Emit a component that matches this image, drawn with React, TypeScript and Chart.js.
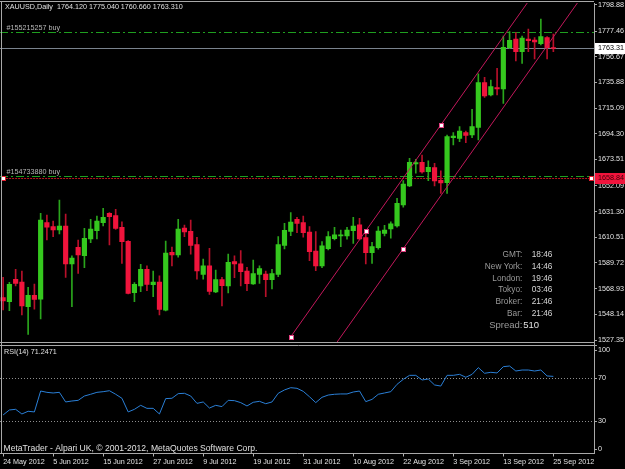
import { useEffect, useRef } from 'react';
import { Chart, registerables } from 'chart.js';

Chart.register(...registerables);

// ---------- data ----------
const symbol = 'XAUUSD';
const period = 'Daily';

const dates = [
  '24 May 2012', '25 May 2012', '28 May 2012', '29 May 2012', '30 May 2012', '31 May 2012',
  '1 Jun 2012', '4 Jun 2012', '5 Jun 2012', '6 Jun 2012', '7 Jun 2012', '8 Jun 2012', '11 Jun 2012',
  '12 Jun 2012', '13 Jun 2012', '14 Jun 2012', '15 Jun 2012', '18 Jun 2012', '19 Jun 2012', '20 Jun 2012',
  '21 Jun 2012', '22 Jun 2012', '25 Jun 2012', '26 Jun 2012', '27 Jun 2012', '28 Jun 2012', '29 Jun 2012',
  '2 Jul 2012', '3 Jul 2012', '4 Jul 2012', '5 Jul 2012', '6 Jul 2012', '9 Jul 2012', '10 Jul 2012',
  '11 Jul 2012', '12 Jul 2012', '13 Jul 2012', '16 Jul 2012', '17 Jul 2012', '18 Jul 2012', '19 Jul 2012',
  '20 Jul 2012', '23 Jul 2012', '24 Jul 2012', '25 Jul 2012', '26 Jul 2012', '27 Jul 2012', '30 Jul 2012',
  '31 Jul 2012', '1 Aug 2012', '2 Aug 2012', '3 Aug 2012', '6 Aug 2012', '7 Aug 2012', '8 Aug 2012',
  '9 Aug 2012', '10 Aug 2012', '13 Aug 2012', '14 Aug 2012', '15 Aug 2012', '16 Aug 2012', '17 Aug 2012',
  '20 Aug 2012', '21 Aug 2012', '22 Aug 2012', '23 Aug 2012', '24 Aug 2012', '27 Aug 2012', '28 Aug 2012',
  '29 Aug 2012', '30 Aug 2012', '31 Aug 2012', '3 Sep 2012', '4 Sep 2012', '5 Sep 2012', '6 Sep 2012',
  '7 Sep 2012', '10 Sep 2012', '11 Sep 2012', '12 Sep 2012', '13 Sep 2012', '14 Sep 2012', '17 Sep 2012',
  '18 Sep 2012', '19 Sep 2012', '20 Sep 2012', '21 Sep 2012', '24 Sep 2012', '25 Sep 2012',
];

const opens = [
  1561.6, 1558.4, 1576.5, 1574.3, 1554.3, 1563.5, 1560.5, 1622.3, 1619.1, 1616.4,
  1619.6, 1588.9, 1602.4, 1595.6, 1609.1, 1615.9, 1622.3, 1629.9, 1628.0, 1618.6,
  1607.2, 1565.7, 1571.1, 1584.6, 1572.2, 1574.3, 1551.4, 1598.3, 1596.2, 1618.0,
  1615.3, 1604.5, 1580.5, 1587.3, 1566.2, 1576.2, 1571.1, 1590.8, 1589.1, 1583.2,
  1572.7, 1580.5, 1580.8, 1576.2, 1580.5, 1604.0, 1615.3, 1625.0, 1622.3, 1614.8,
  1599.4, 1587.3, 1601.3, 1609.4, 1611.5, 1611.5, 1615.9, 1620.5, 1610.2, 1598.1,
  1602.1, 1613.7, 1617.2, 1619.6, 1636.6, 1652.0, 1669.8, 1671.2, 1663.6, 1666.9,
  1656.6, 1654.7, 1691.1, 1690.6, 1695.2, 1693.3, 1699.5, 1735.7, 1725.7, 1731.6,
  1730.5, 1764.0, 1771.0, 1760.8, 1771.0, 1770.2, 1767.2, 1772.1, 1764.12,
];
const highs = [
  1578.1, 1574.0, 1584.6, 1583.2, 1570.0, 1572.7, 1629.9, 1628.5, 1623.7, 1640.7,
  1629.3, 1595.4, 1608.3, 1617.7, 1625.0, 1627.7, 1633.9, 1630.4, 1633.1, 1623.1,
  1607.8, 1573.8, 1588.6, 1587.3, 1583.2, 1579.2, 1607.5, 1602.6, 1625.0, 1620.4,
  1624.5, 1610.5, 1592.9, 1601.6, 1584.0, 1578.1, 1596.9, 1595.4, 1599.7, 1586.2,
  1592.1, 1587.3, 1583.2, 1584.6, 1611.0, 1621.8, 1630.4, 1626.7, 1627.7, 1619.1,
  1615.1, 1607.0, 1615.1, 1618.6, 1616.4, 1618.6, 1626.7, 1625.9, 1613.7, 1606.4,
  1619.1, 1620.2, 1623.1, 1642.0, 1656.3, 1674.4, 1673.6, 1677.1, 1672.3, 1670.4,
  1664.2, 1693.3, 1695.2, 1700.1, 1696.5, 1714.1, 1742.7, 1740.0, 1737.8, 1747.3,
  1773.4, 1776.9, 1776.1, 1773.4, 1779.1, 1772.1, 1787.2, 1772.9, 1775.04,
];
const lows = [
  1551.6, 1551.1, 1571.1, 1547.6, 1531.9, 1552.4, 1544.4, 1608.3, 1611.0, 1613.2,
  1578.1, 1554.3, 1581.3, 1585.9, 1606.1, 1609.1, 1619.6, 1604.3, 1616.9, 1589.4,
  1564.6, 1558.4, 1566.5, 1567.3, 1562.4, 1547.6, 1550.8, 1587.3, 1594.3, 1611.0,
  1596.9, 1576.5, 1576.5, 1564.3, 1565.7, 1554.9, 1565.4, 1577.8, 1571.1, 1567.3,
  1572.4, 1573.2, 1562.4, 1568.6, 1578.6, 1601.0, 1611.8, 1614.3, 1610.5, 1591.6,
  1583.5, 1585.9, 1600.2, 1608.3, 1602.9, 1608.9, 1605.6, 1608.3, 1588.9, 1589.4,
  1600.8, 1611.6, 1609.7, 1618.6, 1634.8, 1651.5, 1662.3, 1662.3, 1656.3, 1652.0,
  1646.1, 1646.1, 1685.2, 1687.9, 1687.1, 1691.1, 1689.3, 1723.8, 1724.9, 1725.7,
  1718.9, 1763.2, 1753.2, 1751.3, 1760.8, 1754.8, 1766.2, 1754.8, 1760.66,
];
const closes = [
  1558.9, 1572.4, 1573.2, 1554.9, 1563.5, 1560.3, 1624.5, 1618.6, 1616.4, 1619.6,
  1588.9, 1593.7, 1596.2, 1609.6, 1617.2, 1623.7, 1626.6, 1627.2, 1617.7, 1606.9,
  1565.1, 1572.4, 1584.6, 1572.4, 1574.3, 1552.2, 1597.8, 1596.2, 1617.2, 1614.8,
  1604.0, 1583.2, 1587.3, 1566.7, 1576.2, 1571.3, 1590.2, 1588.9, 1582.7, 1572.9,
  1581.1, 1585.1, 1576.2, 1581.1, 1604.5, 1616.1, 1622.9, 1621.8, 1614.3, 1598.9,
  1587.3, 1603.5, 1611.0, 1612.4, 1612.4, 1616.4, 1619.6, 1609.1, 1598.1, 1602.9,
  1615.6, 1616.4, 1621.3, 1638.0, 1653.6, 1671.2, 1670.9, 1663.4, 1667.1, 1656.1,
  1654.5, 1692.0, 1692.5, 1696.5, 1693.0, 1700.1, 1735.7, 1724.9, 1732.4, 1730.5,
  1764.3, 1769.9, 1760.8, 1771.8, 1769.7, 1768.6, 1772.9, 1764.0, 1763.31,
];

const rsiValues = [
  35.6, 40.2, 40.8, 36.5, 39.0, 38.4, 57.7, 56.5, 55.9, 56.5,
  47.6, 48.5, 49.1, 53.1, 54.7, 56.5, 57.1, 58.0, 54.7, 51.0,
  38.4, 40.8, 44.5, 41.7, 41.7, 36.5, 50.7, 51.0, 55.3, 55.6,
  53.1, 46.3, 47.6, 42.0, 44.5, 43.3, 49.1, 48.8, 47.0, 43.9,
  47.3, 48.2, 46.0, 47.6, 55.6, 58.7, 60.8, 60.2, 57.4, 52.4,
  47.0, 51.9, 54.0, 54.7, 55.0, 55.0, 56.8, 57.7, 47.9, 50.0,
  54.7, 55.9, 57.1, 63.9, 68.5, 72.2, 72.2, 67.9, 68.8, 63.3,
  62.3, 72.2, 72.2, 73.1, 70.4, 73.1, 79.3, 74.1, 75.0, 74.4,
  80.2, 80.8, 76.2, 77.1, 77.1, 76.2, 77.1, 71.6, 71.2471,
];

const emptySlots = 6; // chart shift on the right
const dateLabelEvery = 8;

const priceTicks = [
  1527.35, 1548.14, 1568.93, 1589.72, 1610.51, 1631.3, 1652.09,
  1673.51, 1694.3, 1715.09, 1735.88, 1756.67, 1777.46, 1798.88,
];
const priceMin = 1524.52;
const priceMax = 1800.13;

const rsiTicks = [100, 70, 30, 0];
const rsiLevels = [70, 30];
const rsiPeriod = 14;

const orderLabels = ['#155215257 buy', '#154733880 buy'];
const orderPrices = [1776.4, 1660.4];
const bidPrice = 1763.31;
const markPrice = 1658.84;
const markFromIdx = 0;
const markToIdx = 94;

// equidistant channel: two anchors on the upper line, one on the lower line
const channelIdx = [46, 70];
const channelPrice = [1530.0, 1701.4];
const channelMidIdx = 58;
const channelLowerIdx = 64;
const channelLowerPrice = 1601.3;

const infoLabels = ['GMT:', 'New York:', 'London:', 'Tokyo:', 'Broker:', 'Bar:'];
const infoValues = ['18:46', '14:46', '19:46', '03:46', '21:46', '21:46'];
const spreadValue = '510';
const copyright = 'MetaTrader - Alpari UK, \u00a9 2001-2012, MetaQuotes Software Corp.';

// ---------- styles ----------
const FONT = '"Liberation Sans", Arial, sans-serif';
const FS = 7.2;
const UP = '#35c81e';
const DN = '#f0143c';
const UP_WICK = '#2aa51c';
const DN_WICK = '#b8102a';
const AXIS_TEXT = '#e4e4e4';
const BORDER = '#a8a8a8';
const CHANNEL = '#c2185b';

export default function App() {
  const ref = useRef<HTMLCanvasElement>(null);

  useEffect(() => {
    const canvas = ref.current;
    if (!canvas) return;
    const labels = [...dates, ...Array(emptySlots).fill('')];
    const bull = closes.map((c, i) => c >= opens[i]);

    const overlay = {
      id: 'mt4overlay',
      beforeDraw(chart: any) {
        const c = chart.ctx;
        c.save();
        c.fillStyle = '#000';
        c.fillRect(0, 0, chart.width, chart.height);
        c.restore();
      },
      beforeDatasetsDraw(chart: any) {
        const c = chart.ctx;
        const x = chart.scales.x;
        const yp = chart.scales.yPrice;
        const yr = chart.scales.yRsi;
        const L = chart.chartArea.left;
        const R = chart.chartArea.right;
        c.save();
        // RSI levels
        c.strokeStyle = '#8e8e8e';
        c.lineWidth = 1;
        c.setLineDash([1, 2]);
        rsiLevels.forEach((v) => {
          const y = Math.round(yr.getPixelForValue(v)) + 0.5;
          c.beginPath();
          c.moveTo(L, y);
          c.lineTo(R, y);
          c.stroke();
        });
        // bid line
        c.setLineDash([]);
        c.strokeStyle = '#7a838e';
        const by = Math.round(yp.getPixelForValue(bidPrice)) + 0.5;
        c.beginPath();
        c.moveTo(L, by);
        c.lineTo(R, by);
        c.stroke();
        // order lines
        c.strokeStyle = '#1f9e1f';
        c.setLineDash([8, 3, 2, 3]);
        orderPrices.forEach((p) => {
          const y = Math.round(yp.getPixelForValue(p)) + 0.5;
          c.beginPath();
          c.moveTo(L, y);
          c.lineTo(R, y);
          c.stroke();
        });
        // mark line (red)
        c.strokeStyle = '#b8141e';
        c.setLineDash([2, 1]);
        const my = Math.round(yp.getPixelForValue(markPrice)) + 0.5;
        c.beginPath();
        c.moveTo(x.getPixelForValue(markFromIdx), my);
        c.lineTo(x.getPixelForValue(markToIdx), my);
        c.stroke();
        c.restore();
      },
      afterDatasetsDraw(chart: any) {
        const c = chart.ctx;
        const x = chart.scales.x;
        const yp = chart.scales.yPrice;
        const L = chart.chartArea.left;
        const R = chart.chartArea.right;
        const slope = (channelPrice[1] - channelPrice[0]) / (channelIdx[1] - channelIdx[0]);
        const farIdx = 130;
        c.save();
        c.beginPath();
        c.rect(L, yp.top, R - L, yp.bottom - yp.top);
        c.clip();
        c.strokeStyle = CHANNEL;
        c.lineWidth = 1;
        // upper line (ray)
        c.beginPath();
        c.moveTo(x.getPixelForValue(channelIdx[0]), yp.getPixelForValue(channelPrice[0]));
        c.lineTo(x.getPixelForValue(farIdx), yp.getPixelForValue(channelPrice[0] + slope * (farIdx - channelIdx[0])));
        c.stroke();
        // lower parallel line
        c.beginPath();
        c.moveTo(x.getPixelForValue(channelIdx[0]), yp.getPixelForValue(channelLowerPrice + slope * (channelIdx[0] - channelLowerIdx)));
        c.lineTo(x.getPixelForValue(farIdx), yp.getPixelForValue(channelLowerPrice + slope * (farIdx - channelLowerIdx)));
        c.stroke();
        c.restore();

        const marker = (px: number, py: number, col: string) => {
          c.save();
          c.fillStyle = col;
          c.fillRect(Math.round(px) - 2, Math.round(py) - 2, 5, 5);
          c.fillStyle = '#ffffff';
          c.fillRect(Math.round(px) - 1, Math.round(py) - 1, 3, 3);
          c.restore();
        };
        marker(x.getPixelForValue(channelIdx[0]), yp.getPixelForValue(channelPrice[0]), '#e04080');
        marker(x.getPixelForValue(channelMidIdx), yp.getPixelForValue(channelPrice[0] + slope * (channelMidIdx - channelIdx[0])), '#e04080');
        marker(x.getPixelForValue(channelIdx[1]), yp.getPixelForValue(channelPrice[1]), '#e04080');
        marker(x.getPixelForValue(channelLowerIdx), yp.getPixelForValue(channelLowerPrice), '#e04080');
        marker(x.getPixelForValue(markFromIdx), yp.getPixelForValue(markPrice), '#e02030');
        marker(x.getPixelForValue(markToIdx), yp.getPixelForValue(markPrice), '#e02030');
      },
      afterDraw(chart: any) {
        const c = chart.ctx;
        const yp = chart.scales.yPrice;
        const yr = chart.scales.yRsi;
        const L = chart.chartArea.left;
        const R = chart.chartArea.right;
        c.save();
        // pane separator
        c.fillStyle = '#000';
        c.fillRect(L, yp.bottom - 1, R - L, 3);
        c.strokeStyle = BORDER;
        c.lineWidth = 1;
        c.beginPath();
        c.moveTo(L, Math.round(yp.bottom) - 1.5);
        c.lineTo(R, Math.round(yp.bottom) - 1.5);
        c.moveTo(L, Math.round(yr.top) + 1.5);
        c.lineTo(R + 3, Math.round(yr.top) + 1.5);
        // top and left frame
        c.moveTo(L, 1.5);
        c.lineTo(R, 1.5);
        c.moveTo(1.5, 1);
        c.lineTo(1.5, chart.chartArea.bottom);
        c.stroke();

        c.font = `${FS}px ${FONT}`;
        c.textBaseline = 'middle';
        c.textAlign = 'left';
        // header
        const n = opens.length - 1;
        c.fillStyle = '#e0e0e0';
        c.fillText(
          `${symbol},${period}  ${opens[n].toFixed(3)} ${highs[n].toFixed(3)} ${lows[n].toFixed(3)} ${closes[n].toFixed(3)}`,
          5, 7.5,
        );
        // order labels
        c.textBaseline = 'alphabetic';
        c.fillStyle = '#b8b8b8';
        orderLabels.forEach((t, i) => {
          c.fillText(t, 6.5, Math.round(yp.getPixelForValue(orderPrices[i])) - 2.5);
        });
        // RSI title & copyright
        c.textBaseline = 'middle';
        c.fillStyle = '#e0e0e0';
        c.fillText(`RSI(${rsiPeriod}) ${rsiValues[n].toFixed(4)}`, 4, yr.top + 8.5);
        c.font = `8.6px ${FONT}`;
        c.fillText(copyright, 3.5, yr.bottom - 4.5);

        // info box
        c.font = `8.3px ${FONT}`;
        const rowTop = yp.bottom - 88.5;
        infoLabels.forEach((t, i) => {
          const y = rowTop + i * 11.65;
          c.textAlign = 'right';
          c.fillStyle = '#9a9a9a';
          c.fillText(t, R - 71.7, y);
          c.textAlign = 'left';
          c.fillStyle = '#d6d6d6';
          c.fillText(infoValues[i], R - 62.3, y);
        });
        c.font = `9.5px ${FONT}`;
        c.textAlign = 'right';
        c.fillStyle = '#9a9a9a';
        c.fillText('Spread:', R - 71.5, yp.bottom - 18.5);
        c.textAlign = 'left';
        c.fillStyle = '#e0e0e0';
        c.fillText(spreadValue, R - 70.7, yp.bottom - 18.5);

        // RSI axis labels
        c.font = `${FS}px ${FONT}`;
        c.fillStyle = AXIS_TEXT;
        c.strokeStyle = BORDER;
        rsiTicks.forEach((v) => {
          const raw = yr.getPixelForValue(v);
          const y = Math.min(Math.max(raw, yr.top + 6.5), yr.bottom - 4.2);
          c.beginPath();
          c.moveTo(R, Math.round(y) + 0.5);
          c.lineTo(R + 3, Math.round(y) + 0.5);
          c.stroke();
          c.fillText(String(v), R + 4, y);
        });

        // price labels on axis
        const box = (p: number, fill: string, txt: string) => {
          const y = yp.getPixelForValue(p);
          c.fillStyle = fill;
          c.fillRect(R + 1, Math.round(y) - 5, chart.width - R, 11);
          c.fillStyle = txt;
          c.fillText(p.toFixed(2), R + 4, Math.round(y) + 0.5);
        };
        box(bidPrice, '#ffffff', '#000000');
        box(markPrice, '#f0143c', '#3a0008');
        c.restore();
      },
    };

    const chart = new Chart(canvas, {
      type: 'bar',
      data: {
        labels,
        datasets: [
          {
            type: 'bar',
            label: 'wick',
            data: highs.map((h, i) => [lows[i], h]) as any,
            yAxisID: 'yPrice',
            backgroundColor: bull.map((b) => (b ? UP_WICK : DN_WICK)),
            borderWidth: 0,
            barThickness: 1,
            grouped: false,
            order: 3,
          },
          {
            type: 'bar',
            label: 'body',
            data: opens.map((o, i) => [o, closes[i]]) as any,
            yAxisID: 'yPrice',
            backgroundColor: bull.map((b) => (b ? UP : DN)),
            borderWidth: 0,
            barThickness: 4.5,
            minBarLength: 1,
            grouped: false,
            order: 2,
          },
          {
            type: 'line',
            label: `RSI(${rsiPeriod})`,
            data: rsiValues,
            yAxisID: 'yRsi',
            borderColor: '#2a7fd6',
            borderWidth: 1,
            pointRadius: 0,
            tension: 0,
            order: 1,
          },
        ],
      },
      options: {
        responsive: false,
        animation: false,
        devicePixelRatio: 1,
        layout: { padding: { left: 0, top: 3, right: 0, bottom: 0 } },
        plugins: { legend: { display: false }, tooltip: { enabled: false } },
        scales: {
          x: {
            type: 'category',
            offset: true,
            position: 'bottom',
            grid: {
              offset: false,
              drawOnChartArea: false,
              drawTicks: true,
              tickLength: 3,
              tickColor: (ctx: any) =>
                ctx.index % dateLabelEvery === 0 && ctx.index < dates.length ? '#b0b0b0' : 'rgba(0,0,0,0)',
            },
            border: { color: BORDER },
            ticks: {
              autoSkip: false,
              maxRotation: 0,
              minRotation: 0,
              align: 'start',
              padding: 1,
              color: AXIS_TEXT,
              font: { family: FONT, size: FS },
              callback: (_v: any, i: number) =>
                i % dateLabelEvery === 0 && i < dates.length ? dates[i] : '',
            },
            afterFit: (s: any) => {
              s.height = 15.5;
              s.paddingLeft = 0;
              s.paddingRight = 0;
            },
          },
          yPrice: {
            type: 'linear',
            position: 'right',
            stack: 'panes',
            stackWeight: 340.5,
            min: priceMin,
            max: priceMax,
            afterBuildTicks: (s: any) => {
              s.ticks = priceTicks.map((v) => ({ value: v }));
            },
            grid: { drawOnChartArea: false, drawTicks: true, tickLength: 3, color: BORDER },
            border: { color: BORDER },
            ticks: {
              autoSkip: false,
              padding: 1,
              color: AXIS_TEXT,
              font: { family: FONT, size: FS },
              callback: (v: any) => Number(v).toFixed(2),
            },
            afterFit: (s: any) => {
              s.width = 31;
              s.paddingTop = 0;
              s.paddingBottom = 0;
            },
          },
          yRsi: {
            type: 'linear',
            position: 'right',
            stack: 'panes',
            stackWeight: 110,
            min: 0,
            max: 101.6,
            grid: { display: false },
            border: { color: BORDER },
            ticks: { display: false },
            afterFit: (s: any) => {
              s.width = 31;
              s.paddingTop = 0;
              s.paddingBottom = 0;
            },
          },
        },
      } as any,
      plugins: [overlay],
    });

    return () => chart.destroy();
  }, []);

  return (
    <div style={{ position: 'fixed', left: 0, top: 0, width: 625, height: 469, background: '#000' }}>
      <canvas ref={ref} width={625} height={469} style={{ display: 'block', width: 625, height: 469 }} />
    </div>
  );
}
